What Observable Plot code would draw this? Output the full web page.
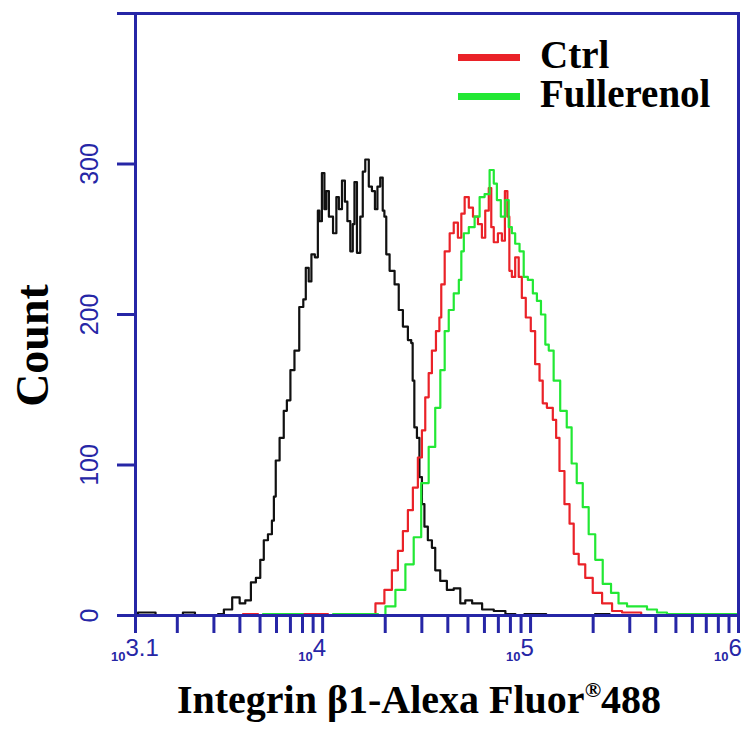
<!DOCTYPE html>
<html>
<head>
<meta charset="utf-8">
<script src="https://cdn.jsdelivr.net/npm/d3@7"></script>
<script src="https://cdn.jsdelivr.net/npm/@observablehq/plot@0.6"></script>
<style>
  html, body { margin: 0; padding: 0; background: #fff; }
  #wrap { position: relative; width: 750px; height: 731px; overflow: hidden; }
  #caption { width: 750px; box-sizing: border-box; padding-left: 88px; padding-top: 8px;
    text-align: center; font-family: "Liberation Serif", "Times New Roman", serif; font-weight: bold;
    font-size: 40px; line-height: 40px; color: #000; white-space: nowrap; }
  #caption sup { font-size: 0.55em; vertical-align: 0.72em; line-height: 0; }
  .leg-line { position: absolute; height: 7px; }
  .leg-text { position: absolute; font-family: "Liberation Serif", "Times New Roman", serif; font-weight: bold;
    font-size: 39px; line-height: 39px; color: #000; white-space: nowrap; }
</style>
</head>
<body>
<div id="wrap"></div>
<script>
// ---- data: x = log10(fluorescence intensity), y = count ----
const blackCurve = [
  [3.100,1],[3.124,2],[3.182,2],[3.211,0],[3.316,0],[3.340,2],[3.374,2],[3.398,0],[3.485,0],[3.509,1],
  [3.541,4],[3.589,12],[3.613,8],[3.643,10],[3.667,22],[3.691,25],[3.709,37],[3.725,50],[3.749,54],[3.763,63],
  [3.768,79],[3.781,103],[3.805,118],[3.821,136],[3.835,143],[3.855,163],[3.874,176],[3.901,205],[3.913,210],[3.925,231],
  [3.941,222],[3.951,240],[3.974,238],[3.980,269],[3.989,262],[4.004,294],[4.013,270],[4.022,282],[4.038,265],[4.062,254],
  [4.070,278],[4.086,270],[4.100,289],[4.114,275],[4.124,262],[4.142,242],[4.148,260],[4.158,288],[4.172,241],[4.190,265],
  [4.196,295],[4.214,303],[4.230,285],[4.244,282],[4.259,270],[4.268,285],[4.286,291],[4.292,269],[4.302,265],[4.310,240],
  [4.334,229],[4.358,220],[4.374,203],[4.398,192],[4.422,183],[4.430,181],[4.436,156],[4.446,125],[4.461,118],[4.470,92],
  [4.485,74],[4.494,59],[4.518,50],[4.533,45],[4.550,30],[4.581,23],[4.614,17],[4.647,18],[4.677,8],[4.695,10],
  [4.743,8],[4.791,4],[4.855,3],[4.903,1],[4.951,0],[4.990,1],[5.050,1],[5.100,0],[5.300,0],[5.320,1],
  [5.360,1],[5.400,0],[5.980,0],[6.000,1]
];
const ctrlCurve = [
  [3.100,0],[3.605,0],[3.629,1],[3.677,1],[3.701,0],[3.893,0],[3.917,1],[4.013,1],[4.038,0],[4.206,0],
  [4.230,1],[4.278,8],[4.316,17],[4.350,30],[4.374,43],[4.398,56],[4.422,70],[4.446,85],[4.470,105],[4.485,123],
  [4.502,145],[4.518,161],[4.533,176],[4.557,189],[4.566,198],[4.575,220],[4.599,242],[4.623,254],[4.638,261],[4.663,251],
  [4.671,267],[4.695,278],[4.711,271],[4.735,265],[4.759,260],[4.773,251],[4.791,269],[4.807,284],[4.815,258],[4.831,248],
  [4.855,254],[4.869,249],[4.884,282],[4.893,265],[4.903,229],[4.917,225],[4.935,238],[4.951,225],[4.965,211],[4.989,198],
  [5.013,189],[5.031,167],[5.055,156],[5.062,141],[5.095,138],[5.119,130],[5.127,118],[5.151,96],[5.175,74],[5.200,61],
  [5.215,41],[5.248,34],[5.278,25],[5.320,15],[5.368,8],[5.416,3],[5.464,2],[5.512,2],[5.552,0],[6.000,0]
];
const fullCurve = [
  [3.100,0],[3.701,0],[3.725,1],[3.893,1],[3.917,0],[4.038,0],[4.062,1],[4.254,1],[4.278,0],[4.326,6],
  [4.374,17],[4.422,34],[4.454,52],[4.494,88],[4.526,112],[4.557,138],[4.575,163],[4.599,189],[4.614,203],[4.647,214],
  [4.663,223],[4.671,242],[4.687,254],[4.719,258],[4.743,265],[4.767,278],[4.791,280],[4.815,296],[4.831,287],[4.845,276],
  [4.869,265],[4.887,276],[4.903,258],[4.917,254],[4.935,247],[4.959,242],[4.975,225],[4.999,223],[5.023,214],[5.038,209],
  [5.062,200],[5.080,180],[5.095,176],[5.127,156],[5.158,136],[5.190,125],[5.205,101],[5.239,88],[5.263,72],[5.296,54],
  [5.326,37],[5.368,21],[5.406,15],[5.440,8],[5.488,6],[5.536,6],[5.584,4],[5.632,2],[5.680,1],[6.000,1]
];
const seriesNames = ["Ctrl", "Fullerenol"];
const seriesColors = ["#ea2228", "#22e834"];
const yTickValues = [0, 100, 200, 300, 400];
const yTickLabels = [0, 100, 200, 300];
const xMinorTicks = [2e3,3e3,4e3,5e3,6e3,7e3,8e3,9e3,1e4,2e4,3e4,4e4,5e4,6e4,7e4,8e4,9e4,1e5,2e5,3e5,4e5,5e5,6e5,7e5,8e5,9e5,1e6];
const xMajorExponents = ["3.1", "4", "5", "6"];

const blue = "#2626a6";
const toRows = c => c.map(([x, y]) => ({x, y}));
const sans = "Liberation Sans, Arial, sans-serif";
const serif = "Liberation Serif, Times New Roman, serif";

const W = 750, H = 672;
const chart = Plot.plot({
  width: W, height: H,
  marginLeft: 135, marginRight: 12, marginTop: 13, marginBottom: H - 615,
  x: {type: "linear", domain: [3.1, 6], axis: null},
  y: {domain: [0, 400], axis: null},
  style: {background: "#fff", overflow: "visible"},
  marks: [
    Plot.axisY({ticks: yTickValues, tickSize: 18, tickFormat: () => "", label: null, stroke: blue, strokeWidth: 3}),
    Plot.axisX({ticks: [3.1, ...xMinorTicks.map(Math.log10)], tickSize: 18, tickFormat: () => "", label: null, stroke: blue, strokeWidth: 3}),
    Plot.text(yTickLabels, {y: d => d, text: d => String(d), frameAnchor: "left", textAnchor: "middle", rotate: -90, dx: -38,
      lineAnchor: "bottom", fontSize: 25, fill: blue, fontFamily: sans}),
    Plot.text(xMajorExponents, {x: d => +d, text: () => "10", frameAnchor: "bottom", textAnchor: "end",
      dx: -10, dy: 45, lineAnchor: "bottom", fontSize: 13, fontWeight: "bold", fill: blue, fontFamily: sans}),
    Plot.text(xMajorExponents, {x: d => +d, text: d => d, frameAnchor: "bottom", textAnchor: "start",
      dx: -10, dy: 40, lineAnchor: "bottom", fontSize: 24, fill: blue, fontFamily: sans}),
    Plot.text(["Count"], {text: d => d, frameAnchor: "left", textAnchor: "middle", rotate: -90, dx: -102, dy: 31,
      fontSize: 46, fontWeight: "bold", fill: "#000", fontFamily: serif}),
    Plot.line(toRows(blackCurve), {x: "x", y: "y", curve: "step", stroke: "#111", strokeWidth: 2.2}),
    Plot.line(toRows(ctrlCurve), {x: "x", y: "y", curve: "step", stroke: seriesColors[0], strokeWidth: 2.2}),
    Plot.line(toRows(fullCurve), {x: "x", y: "y", curve: "step", stroke: seriesColors[1], strokeWidth: 2.2}),
    Plot.frame({stroke: blue, strokeWidth: 3})
  ]
});

const wrap = document.getElementById("wrap");
wrap.appendChild(chart);

const cap = document.createElement("div");
cap.id = "caption";
cap.innerHTML = "Integrin β1-Alexa Fluor<sup>®</sup>488";
wrap.appendChild(cap);

// legend (inside the plot frame, top right)
seriesNames.forEach((name, i) => {
  const line = document.createElement("div");
  line.className = "leg-line";
  line.style.cssText = `left:458px;top:${54 + i * 39}px;width:62px;background:${seriesColors[i]}`;
  wrap.appendChild(line);
  const t = document.createElement("div");
  t.className = "leg-text";
  t.style.cssText = `left:540px;top:${35 + i * 39}px`;
  t.textContent = name;
  wrap.appendChild(t);
});
</script>
</body>
</html>
